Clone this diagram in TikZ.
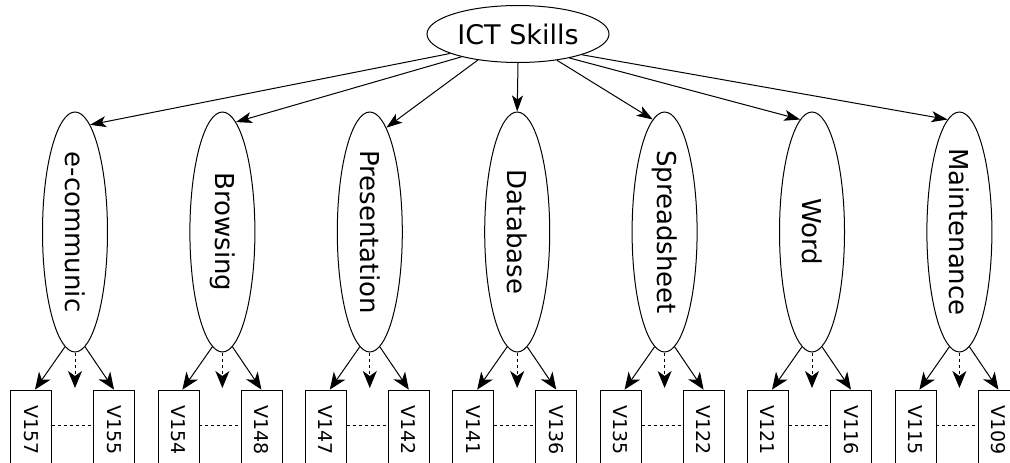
\documentclass[tikz,border=0pt]{standalone}
\usepackage{graphicx}
\usepackage{fontspec}
\setmainfont{DejaVu Sans}
\usetikzlibrary{shapes.geometric,arrows.meta}
\tikzset{
  latent/.style={draw, ellipse, line width=1pt, inner sep=0pt, font=\fontsize{26}{30}\selectfont},
  item/.style={draw, rectangle, line width=0.8pt, minimum width=41pt, minimum height=80pt, inner sep=0pt, font=\fontsize{19}{21}\selectfont},
  toparrow/.style={-{Stealth[length=16pt,width=11pt,inset=4pt]}, line width=1pt},
  botarrow/.style={-{Stealth[length=17pt,width=14pt,inset=5pt]}, line width=1pt}
}
\begin{document}
\begin{tikzpicture}[x=1pt,y=-1pt]
  \useasboundingbox (0,0) rectangle (1010,463);
  \node[latent, minimum width=182pt, minimum height=57pt, font=\fontsize{27}{30}\selectfont] (ict) at (518,34) {ICT Skills};
  % factors with their two indicators
  \foreach \i/\name/\va/\vb/\ps/\pe in {1/e-communic/V157/V155/196/82, 2/Browsing/V154/V148/202/83,
      3/Presentation/V147/V142/213/81, 4/Database/V141/V136/270/90, 5/Spreadsheet/V135/V122/326/96,
      6/Word/V121/V116/335/96, 7/Maintenance/V115/V109/342/96}{
    \pgfmathsetmacro{\cx}{75+147.4*(\i-1)}
    \node[latent, minimum width=65pt, minimum height=240pt] (f\i) at (\cx,232) {\rotatebox{-90}{\name}};
    \node[item] (a\i) at (\cx-44,430) {\rotatebox{-90}{\va}};
    \node[item] (b\i) at (\cx+39,430) {\rotatebox{-90}{\vb}};
    \coordinate (d\i) at (\cx,388);
    \draw[toparrow] (ict.\ps) -- (f\i.\pe);
    \draw[botarrow] (f\i.265) -- ([xshift=4pt]a\i.north);
    \draw[botarrow] (f\i.275) -- (b\i.north);
    \draw[botarrow, dashed] (f\i.south) -- (d\i);
    \draw[dashed, line width=0.6pt] ([yshift=5pt]a\i.east) -- ([yshift=5pt]b\i.west);
  }
\end{tikzpicture}
\end{document}
